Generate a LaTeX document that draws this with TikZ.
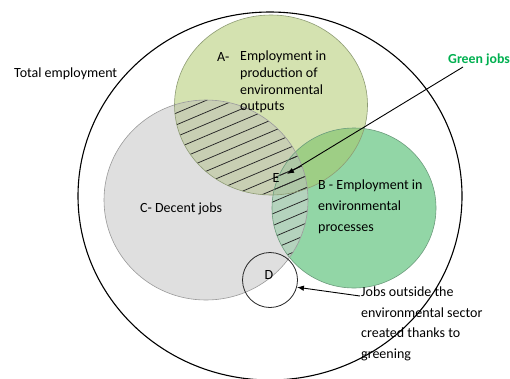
\documentclass[tikz,border=0pt]{standalone}
\usepackage{fontspec}
\setmainfont{Carlito}
\usetikzlibrary{arrows.meta,shapes.geometric}
\definecolor{colA}{HTML}{D4E2B0}
\definecolor{colB}{HTML}{92D6A6}
\definecolor{colC}{HTML}{DFDFDF}
\definecolor{colAB}{HTML}{9ECE85}
\definecolor{colAC}{HTML}{C8CFB3}
\definecolor{colBC}{HTML}{B4D3BD}
\definecolor{colABC}{HTML}{AEC7A6}
\definecolor{bdA}{HTML}{8E9C74}
\definecolor{bdB}{HTML}{6C9C7C}
\definecolor{bdC}{HTML}{9A9A9A}
\definecolor{greenjobs}{HTML}{00B050}
\tikzset{
  lbl/.style={inner sep=0pt, font=\fontsize{14}{16.7}\selectfont, text=black},
  hatchline/.style={line width=0.75pt, black!85},
  arr/.style={line width=0.9pt, -{Latex[length=7pt,width=5.5pt]}},
}
\def\pathA{(271,105) ellipse [x radius=96.5pt, y radius=90pt]}
\def\pathB{(354,208) ellipse [x radius=82pt, y radius=80pt]}
\def\pathC{(206,200) ellipse [x radius=102pt, y radius=100pt]}
\begin{document}
\begin{tikzpicture}[x=1pt,y=-1pt]
\useasboundingbox (0,0) rectangle (510,378);
\clip (0,0) rectangle (510,378);
\fill[white] (0,0) rectangle (510,378);
% region fills
\fill[colA] \pathA;
\fill[colB] \pathB;
\fill[colC] \pathC;
\begin{scope}\clip \pathA; \fill[colAB] \pathB; \end{scope}
\begin{scope}\clip \pathA; \fill[colAC] \pathC; \end{scope}
\begin{scope}\clip \pathB; \fill[colBC] \pathC; \end{scope}
\begin{scope}\clip \pathA; \clip \pathB; \fill[colABC] \pathC; \end{scope}
% hatching of C within A and B
\begin{scope}\clip \pathC; \clip \pathA;
  \foreach \k in {-6,...,22} {\draw[hatchline] (90,149.7+11.8*\k) -- (340,149.7+11.8*\k-106.1);}
\end{scope}
\begin{scope}\clip \pathC; \clip \pathB;
  \foreach \k in {-6,...,22} {\draw[hatchline] (90,149.7+11.8*\k) -- (340,149.7+11.8*\k-106.1);}
\end{scope}
% borders
\draw[bdA, line width=0.6pt] \pathA;
\draw[bdB, line width=0.6pt] \pathB;
\draw[bdC, line width=0.6pt] \pathC;
% total employment
\draw[black, line width=1.1pt] (270,196) ellipse [x radius=192pt, y radius=184pt];
% D circle
\node[circle, draw=black!85, line width=0.8pt, minimum size=55pt, inner sep=0pt] (Dc) at (270,280) {};
% texts
\node[lbl, anchor=west] (total) at (14,74) {Total employment};
\node[lbl, anchor=west] (Alab) at (217,57) {A-};
\node[lbl, anchor=west, align=left] (Atext) at (240,82) {Employment in\\production of\\environmental\\outputs};
\node[lbl, anchor=west, align=left, font=\fontsize{14}{21}\selectfont] (Btext) at (318,207) {B - Employment in\\environmental\\processes};
\node[lbl, anchor=west] (Ctext) at (140,209) {C- Decent jobs};
\node[lbl] (Elab) at (276,178) {E};
\node[lbl] (Dlab) at (269,275) {D};
\node[lbl, anchor=west, text=greenjobs, font=\fontsize{13.8}{16.7}\selectfont\bfseries] (green) at (448,60) {Green jobs};
\node[lbl, anchor=north west, align=left, font=\fontsize{14}{20.4}\selectfont] (jobs) at (361,287) {Jobs outside the\\environmental sector\\created thanks to\\greening};
% arrows
\coordinate (Etip) at (287,174);
\coordinate (gstart) at (463,67);
\draw[arr] (gstart) -- (Etip);
\coordinate (jstart) at (360,296);
\draw[arr] (jstart) -- (Dc.-15);
\end{tikzpicture}
\end{document}
